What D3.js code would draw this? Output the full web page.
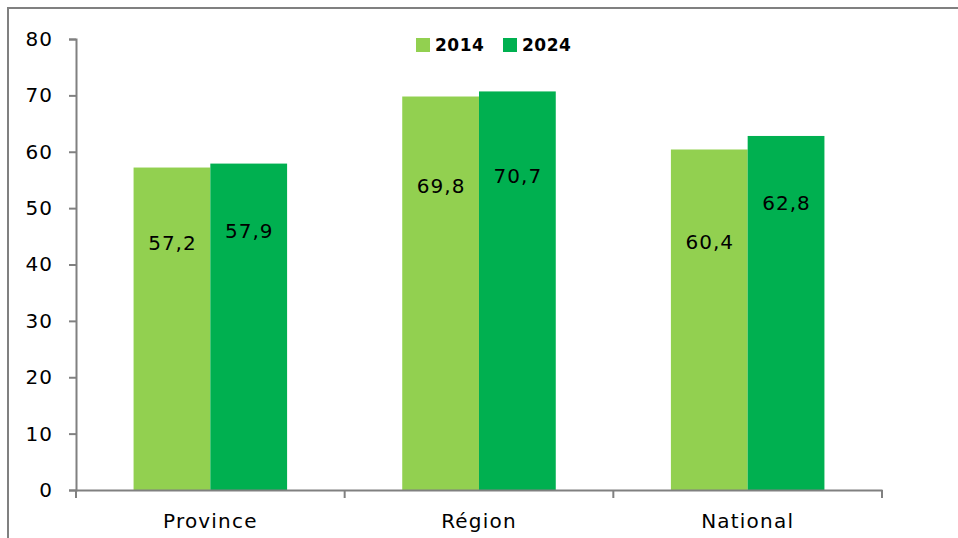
<!DOCTYPE html>
<html>
<head>
<meta charset="utf-8">
<script src="https://cdn.jsdelivr.net/npm/d3@7"></script>
<style>
  body { margin: 0; background: #fff; }
  svg text { font-family: "DejaVu Sans", sans-serif; }
</style>
</head>
<body>
<script>
// data
const categories = ["Province", "Région", "National"];
const series = ["2014", "2024"];
const values2014 = [57.2, 69.8, 60.4];
const values2024 = [57.9, 70.7, 62.8];
// where the labels were dragged to (value units)
const labelAt2014 = [43.8, 53.9, 44.0];
const labelAt2024 = [45.9, 55.7, 50.9];
const yTicks = [0, 10, 20, 30, 40, 50, 60, 70, 80];
const colors = ["#92d050", "#00b050"];

let width = 958, height = 538;
let plotLeft = 76, plotRight = 882, plotTop = 39, plotBottom = 490;

let svg = d3.select('body').append('svg')
    .attr('width', width)
    .attr('height', height);

// outer frame
svg.append('rect')
    .attr('x', 8).attr('y', 8)
    .attr('width', width + 10).attr('height', height + 10)
    .attr('fill', 'none')
    .attr('stroke', '#808080')
    .attr('stroke-width', 2);

let x = d3.scaleBand().domain(categories).range([plotLeft, plotRight]);
let x1 = d3.scaleBand().domain(series).range([0, x.bandwidth()]).paddingOuter(0.75);
let y = d3.scaleLinear().domain([0, 80]).range([plotBottom, plotTop]);

let rows = categories.map(function(c, i) {
    return [
        {cat: c, s: series[0], v: values2014[i], at: labelAt2014[i]},
        {cat: c, s: series[1], v: values2024[i], at: labelAt2024[i]}
    ];
});

let g = svg.selectAll('g.cat')
    .data(rows)
    .enter()
    .append('g')
    .attr('class', 'cat')
    .attr('transform', function(d) { return `translate(${x(d[0].cat)},0)`; });

g.selectAll('rect')
    .data(function(d) { return d; })
    .enter()
    .append('rect')
    .attr('x', function(d) { return x1(d.s); })
    .attr('y', function(d) { return y(d.v); })
    .attr('width', x1.bandwidth())
    .attr('height', function(d) { return plotBottom - y(d.v); })
    .attr('fill', function(d, i) { return colors[i]; });

g.selectAll('text')
    .data(function(d) { return d; })
    .enter()
    .append('text')
    .attr('x', function(d) { return x1(d.s) + x1.bandwidth() / 2 + 0.5; })
    .attr('y', function(d) { return y(d.at); })
    .attr('dy', '0.35em')
    .attr('text-anchor', 'middle')
    .attr('font-size', '20px')
    .attr('letter-spacing', '1px')
    .attr('fill', '#000')
    .text(function(d) { return String(d.v).replace('.', ','); });

// axes
let axisY = d3.axisLeft(y).tickValues(yTicks).tickSize(7).tickPadding(16);
let gy = svg.append('g').attr('transform', `translate(${plotLeft},0)`).call(axisY);
gy.select('.domain').attr('stroke', '#808080').attr('stroke-width', 2);
gy.selectAll('.tick line').attr('stroke', '#808080').attr('stroke-width', 2);
gy.selectAll('.tick text').attr('font-size', '20px').attr('fill', '#000')
    .attr('letter-spacing', '1px')
    .style('font-family', '"DejaVu Sans", sans-serif');

let axisX = d3.axisBottom(x).tickSize(0).tickPadding(24);
let gx = svg.append('g').attr('transform', `translate(0,${plotBottom})`).call(axisX);
gx.select('.domain').attr('stroke', '#808080').attr('stroke-width', 2);
gx.selectAll('.tick text').attr('font-size', '20px').attr('fill', '#000')
    .attr('letter-spacing', '1.2px')
    .style('font-family', '"DejaVu Sans", sans-serif');

// category dividers
let bounds = [plotLeft].concat(categories.map(function(c) { return x(c) + x.bandwidth(); }));
svg.selectAll('line.div')
    .data(bounds)
    .enter()
    .append('line')
    .attr('x1', function(d) { return d; })
    .attr('x2', function(d) { return d; })
    .attr('y1', plotBottom)
    .attr('y2', plotBottom + 8)
    .attr('stroke', '#808080')
    .attr('stroke-width', 2);

// legend
let legend = svg.append('g');
let lx = [416, 503];
series.forEach(function(s, i) {
    legend.append('rect')
        .attr('x', lx[i]).attr('y', 38)
        .attr('width', 14).attr('height', 14)
        .attr('fill', colors[i]);
    legend.append('text')
        .attr('x', lx[i] + 19).attr('y', 45)
        .attr('dy', '0.35em')
        .attr('font-size', '17px')
        .attr('font-weight', 'bold')
        .attr('letter-spacing', '0.5px')
        .attr('fill', '#000')
        .text(s);
});
</script>
</body>
</html>
